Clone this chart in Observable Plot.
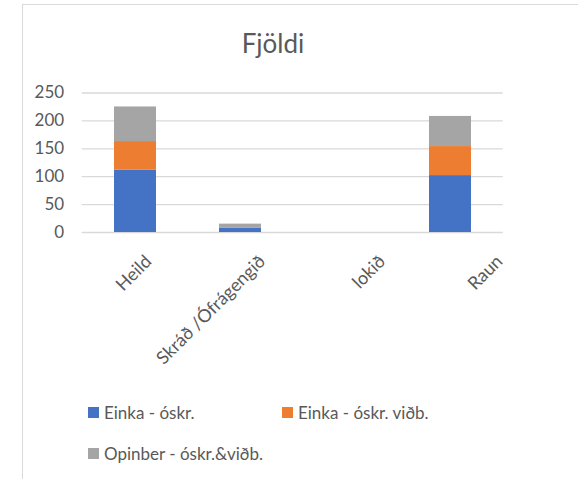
<!DOCTYPE html>
<html>
<head>
<meta charset="utf-8">
<script src="https://cdn.jsdelivr.net/npm/d3@7"></script>
<script src="https://cdn.jsdelivr.net/npm/@observablehq/plot@0.6"></script>
<style>
  html, body { margin: 0; padding: 0; background: #fff; }
  #page { position: relative; width: 578px; height: 479px; overflow: hidden; font-family: Lato, "Open Sans", sans-serif; color: #595959; }
  #frame { position: absolute; left: 22px; top: 4px; right: -10px; bottom: -10px; border-left: 1.5px solid #d9d9d9; border-top: 1.5px solid #d9d9d9; pointer-events: none; }
  #title { position: relative; width: 546px; height: 70px; box-sizing: border-box; padding-top: 28px; line-height: 30px; font-size: 26px; text-align: center; }
  #chart svg { display: block; }
  #legend { position: relative; padding-left: 88px; padding-top: 30px; display: flex; flex-wrap: wrap; width: 420px; font-size: 17px; line-height: 41px; }
  .item { width: 194px; display: flex; align-items: center; }
  .sw { width: 11px; height: 11px; margin-right: 5px; flex: none; }
</style>
</head>
<body>
<div id="page">
  <div id="frame"></div>
  <div id="title">Fjöldi</div>
  <div id="chart"></div>
  <div id="legend"></div>
</div>
<script>
const categories = ["Heild", "Skráð /Ófrágengið", "lokið", "Raun"];
const seriesNames = ["Einka - óskr.", "Einka - óskr. viðb.", "Opinber - óskr.&viðb."];
const einka = [112, 8, 0, 102];
const einkaVidb = [51, 0, 0, 52];
const opinber = [62, 7, 0, 54];
const yTicks = [0, 50, 100, 150, 200, 250];
const colors = ["#4472C4", "#ED7D31", "#A5A5A5"];
// horizontal nudge of each rotated category label (as drawn in the original)
const labelShift = [13, 22, 37, 49];

const seriesValues = [einka, einkaVidb, opinber];
const data = categories.flatMap((c, i) =>
  seriesNames.map((s, j) => ({cat: c, series: s, value: seriesValues[j][i]}))
);

const chart = Plot.plot({
  width: 578,
  height: 292,
  marginLeft: 81.7,
  marginRight: 75.3,
  marginTop: 22.5,
  marginBottom: 130,
  style: {fontFamily: "Lato, 'Open Sans', sans-serif", fontSize: "17px", color: "#595959", background: "transparent", overflow: "visible"},
  x: {domain: categories, paddingInner: 0.6, paddingOuter: 0.3, label: null},
  y: {domain: [0, 250], label: null},
  color: {domain: seriesNames, range: colors},
  marks: [
    Plot.gridY(yTicks, {stroke: "#d9d9d9", strokeOpacity: 1, strokeWidth: 1.3}),
    Plot.barY(data, {x: "cat", y: "value", fill: "series", order: seriesNames}),
    Plot.axisY(yTicks, {tickSize: 0, tickPadding: 18, fontSize: 17, fill: "#595959", label: null}),
    ...categories.map((c, i) =>
      Plot.axisX([c], {tickSize: 0, tickRotate: -45, tickPadding: 26, dx: labelShift[i], fontSize: 18, fill: "#595959", label: null})
    )
  ]
});
document.getElementById("chart").appendChild(chart);

const legend = document.getElementById("legend");
seriesNames.forEach((s, i) => {
  const it = document.createElement("div");
  it.className = "item";
  const sw = document.createElement("span");
  sw.className = "sw";
  sw.style.background = colors[i];
  const tx = document.createElement("span");
  tx.textContent = s;
  it.appendChild(sw);
  it.appendChild(tx);
  legend.appendChild(it);
});
</script>
</body>
</html>
